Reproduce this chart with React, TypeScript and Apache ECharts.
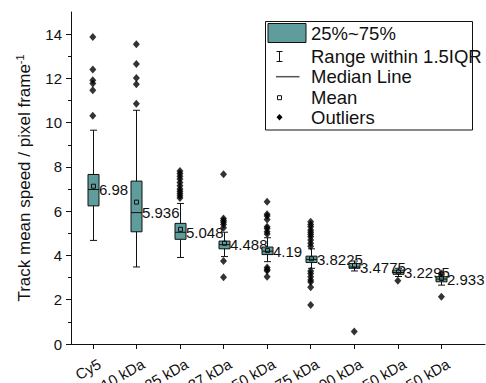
import React, { useEffect, useRef } from "react";
import * as echarts from "echarts";

const categories = ["Cy5", "10 kDa", "25 kDa", "37 kDa", "50 kDa", "75 kDa", "100 kDa", "150 kDa", "250 kDa"];
const whiskerLow = [4.68, 3.48, 3.91, 3.95, 3.72, 3.42, 3.3, 3.05, 2.66];
const q1 = [6.24, 5.07, 4.73, 4.3, 4.04, 3.68, 3.42, 3.15, 2.81];
const median = [6.98, 5.936, 5.048, 4.488, 4.19, 3.8225, 3.4775, 3.2295, 2.933];
const q3 = [7.66, 7.36, 5.45, 4.65, 4.38, 3.97, 3.64, 3.34, 3.04];
const whiskerHigh = [9.66, 10.56, 6.35, 5.05, 4.8, 4.3, 3.75, 3.42, 3.12];
const means = [7.13, 6.41, 5.18, 4.55, 4.22, 3.85, 3.55, 3.26, 2.96];
const outliers = [
  [13.87, 12.4, 11.92, 11.77, 11.47, 10.31],
  [13.54, 12.65, 12.02, 11.74, 10.85],
  [7.82, 7.7, 7.58, 7.45, 7.3, 7.15, 7.0, 6.9, 6.8, 6.7, 6.6],
  [7.67, 5.67, 5.58, 5.5, 5.4, 5.25, 3.75, 3.02],
  [6.43, 5.86, 5.78, 5.62, 5.3, 5.22, 5.07, 4.97, 3.46, 3.37, 3.31, 3.04],
  [5.52, 5.4, 5.3, 5.15, 5.05, 4.95, 4.84, 4.7, 4.55, 4.42, 3.3, 3.19, 3.04, 2.89, 2.8, 2.56, 1.76],
  [0.56],
  [2.86],
  [3.19, 2.14],
];
const yTicks = [0, 2, 4, 6, 8, 10, 12, 14];
const legendLabels = ["25%~75%", "Range within 1.5IQR", "Median Line", "Mean", "Outliers"];

const FONT = "'Liberation Sans', Arial, sans-serif";
const TEAL = "#5f9c9c";
const INK = "#111";
const LABEL_SHIFT = 0.07;

export default function App() {
  const ref = useRef<HTMLDivElement>(null);
  useEffect(() => {
    if (!ref.current) return;
    const chart = echarts.init(ref.current, undefined, { renderer: "svg" });
    const xPos = categories.map((_, i) => i + 1);
    const labelPos = xPos.map((v) => v + LABEL_SHIFT);
    const boxData = categories.map((_, i) => [
      i + 1,
      whiskerLow[i],
      q1[i],
      median[i],
      q3[i],
      whiskerHigh[i],
      means[i],
    ]);
    const outlierData: number[][] = [];
    outliers.forEach((arr, i) => arr.forEach((v) => outlierData.push([i + 1, v])));

    const legendY = [33, 56, 76.7, 97.7, 117.3];

    const option: any = {
      animation: false,
      backgroundColor: "#fff",
      grid: { left: 71, right: 1, top: 12, bottom: 39, containLabel: false, outerBoundsMode: "none" },
      xAxis: {
        type: "value",
        min: 0.5,
        max: 10,
        axisLine: { show: true, lineStyle: { color: INK, width: 1 } },
        axisTick: { show: true, customValues: xPos, length: 5, lineStyle: { color: INK } },
        axisLabel: {
          customValues: labelPos,
          formatter: (v: number) => categories[Math.round(v - LABEL_SHIFT) - 1] ?? "",
          rotate: 30,
          align: "right",
          verticalAlign: "top",
          fontSize: 15,
          fontFamily: FONT,
          color: INK,
          margin: 12,
          hideOverlap: false,
        },
        splitLine: { show: false },
      },
      yAxis: {
        type: "value",
        min: 0,
        max: 15,
        interval: 2,
        axisLine: { show: true, lineStyle: { color: INK, width: 1 } },
        axisTick: { show: true, length: 5, customValues: yTicks, lineStyle: { color: INK } },
        minorTick: { show: true, splitNumber: 2, length: 3, lineStyle: { color: INK } },
        axisLabel: {
          customValues: yTicks,
          fontSize: 15,
          fontFamily: FONT,
          color: INK,
          margin: 9,
        },
        splitLine: { show: false },
      },
      series: [
        {
          type: "custom",
          clip: false,
          encode: { x: 0, y: [1, 2, 3, 4, 5, 6] },
          data: boxData,
          z: 2,
          renderItem: (params: any, api: any) => {
            const x = api.value(0);
            const pLow = api.coord([x, api.value(1)]);
            const pQ1 = api.coord([x, api.value(2)]);
            const pMed = api.coord([x, api.value(3)]);
            const pQ3 = api.coord([x, api.value(4)]);
            const pHigh = api.coord([x, api.value(5)]);
            const pMean = api.coord([x, api.value(6)]);
            const cx = Math.round(pMed[0]) + 0.5;
            const hw = 5.5;
            const cw = 3.5;
            const ls = { stroke: INK, lineWidth: 1 };
            return {
              type: "group",
              children: [
                { type: "line", shape: { x1: cx, y1: pLow[1], x2: cx, y2: pHigh[1] }, style: ls },
                { type: "line", shape: { x1: cx - cw, y1: pLow[1], x2: cx + cw, y2: pLow[1] }, style: ls },
                { type: "line", shape: { x1: cx - cw, y1: pHigh[1], x2: cx + cw, y2: pHigh[1] }, style: ls },
                {
                  type: "rect",
                  shape: { x: cx - hw, y: pQ3[1], width: hw * 2, height: pQ1[1] - pQ3[1] },
                  style: { fill: TEAL, stroke: INK, lineWidth: 1 },
                },
                { type: "line", shape: { x1: cx - hw, y1: pMed[1], x2: cx + hw, y2: pMed[1] }, style: ls },
                {
                  type: "rect",
                  shape: { x: cx - 2, y: pMean[1] - 2, width: 4, height: 4 },
                  style: { fill: "none", stroke: INK, lineWidth: 1 },
                },
                {
                  type: "text",
                  x: cx + hw,
                  y: pMed[1],
                  style: {
                    text: String(median[params.dataIndex]),
                    fill: INK,
                    fontSize: 15,
                    fontFamily: FONT,
                    align: "left",
                    verticalAlign: "middle",
                  },
                },
              ],
            };
          },
        },
        {
          type: "scatter",
          data: outlierData,
          symbol: "diamond",
          symbolSize: [7, 8],
          itemStyle: { color: "#000" },
          z: 3,
        },
      ],
      graphic: [
        {
          type: "text",
          x: 24,
          y: 178,
          rotation: Math.PI / 2,
          style: {
            text: "{a|Track mean speed / pixel frame}{s|-1}",
            align: "center",
            verticalAlign: "middle",
            rich: {
              a: { fontSize: 17, fontFamily: FONT, fill: INK, lineHeight: 20 },
              s: { fontSize: 11, fontFamily: FONT, fill: INK, verticalAlign: "top", lineHeight: 20 },
            },
          },
        },
        {
          type: "rect",
          shape: { x: 265.5, y: 21.5, width: 207, height: 108.5 },
          style: { fill: "#fff", stroke: INK, lineWidth: 1 },
          z: 10,
        },
        {
          type: "rect",
          shape: { x: 268, y: 23.5, width: 38, height: 19 },
          style: { fill: TEAL, stroke: INK, lineWidth: 1 },
          z: 11,
        },
        { type: "line", shape: { x1: 279.5, y1: 51.5, x2: 279.5, y2: 61.5 }, style: { stroke: INK, lineWidth: 1 }, z: 11 },
        { type: "line", shape: { x1: 276.5, y1: 51.5, x2: 282.5, y2: 51.5 }, style: { stroke: INK, lineWidth: 1 }, z: 11 },
        { type: "line", shape: { x1: 276.5, y1: 61.5, x2: 282.5, y2: 61.5 }, style: { stroke: INK, lineWidth: 1 }, z: 11 },
        { type: "line", shape: { x1: 276, y1: 76.7, x2: 299.5, y2: 76.7 }, style: { stroke: "#555", lineWidth: 1.5 }, z: 11 },
        { type: "rect", shape: { x: 277.5, y: 95.7, width: 4, height: 4 }, style: { fill: "#fff", stroke: INK, lineWidth: 1 }, z: 11 },
        {
          type: "polygon",
          shape: { points: [[279.5, 114], [282.5, 117.3], [279.5, 120.6], [276.5, 117.3]] },
          style: { fill: "#000" },
          z: 11,
        },
        ...legendLabels.map((t, i) => ({
          type: "text",
          x: 311,
          y: legendY[i],
          z: 11,
          style: { text: t, fontSize: 18.5, fontFamily: FONT, fill: INK, align: "left", verticalAlign: "middle" },
        })),
      ],
    };
    chart.setOption(option);
    return () => chart.dispose();
  }, []);
  return (
    <div
      ref={ref}
      style={{ position: "fixed", left: 0, top: 0, width: 486, height: 383, background: "#fff" }}
    />
  );
}
